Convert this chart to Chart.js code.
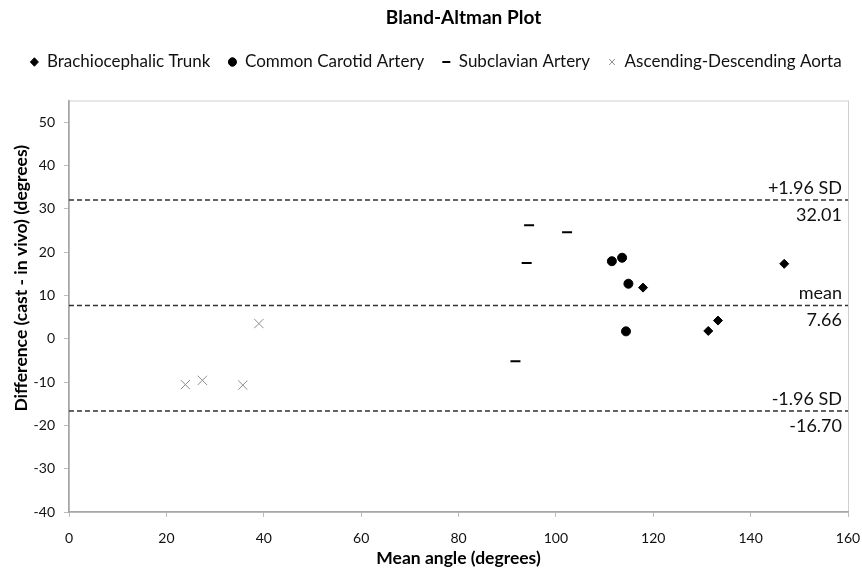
<!DOCTYPE html>
<html>
<head>
<meta charset="utf-8">
<title>Bland-Altman Plot</title>
<script src="https://cdn.jsdelivr.net/npm/chart.js@4.4.1/dist/chart.umd.min.js"></script>
<style>
  html, body { margin: 0; padding: 0; background: #fff; }
  #wrap { width: 862px; height: 573px; position: relative; }
</style>
</head>
<body>
<div id="wrap"><canvas id="chart"></canvas></div>
<script>
/* ---------- Dados ---------- */
const TITLE = "Bland-Altman Plot";
const X_TITLE = "Mean angle (degrees)";
const Y_TITLE = "Difference (cast - in vivo) (degrees)";
const SERIES_NAMES = ["Brachiocephalic Trunk", "Common Carotid Artery", "Subclavian Artery", "Ascending-Descending Aorta"];

const TRUNK_X = [117.9, 131.3, 133.3, 146.9];
const TRUNK_Y = [11.8, 1.8, 4.2, 17.3];

const CAROTID_X = [111.5, 113.6, 114.9, 114.4];
const CAROTID_Y = [17.9, 18.7, 12.7, 1.7];

const SUBCLAVIAN_X = [94.5, 102.3, 94.0, 91.7];
const SUBCLAVIAN_Y = [26.2, 24.6, 17.5, -5.2];

const AORTA_X = [23.9, 27.4, 35.7, 39.0];
const AORTA_Y = [-10.6, -9.6, -10.7, 3.5];

const LIMIT_NAMES = ["+1.96 SD", "mean", "-1.96 SD"];
const LIMIT_VALUES = [32.01, 7.66, -16.70];

const X_TICKS = [0, 20, 40, 60, 80, 100, 120, 140, 160];
const Y_TICKS = [-40, -30, -20, -10, 0, 10, 20, 30, 40, 50];
const Y_MAX = 55;

/* ---------- Helpers ---------- */
const FONT = "Lato, 'Noto Sans', sans-serif";
const pontos = (xs, ys) => xs.map((x, i) => ({ x, y: ys[i] }));

function serie(idx, xs, ys, estilo) {
  return Object.assign({ label: SERIES_NAMES[idx], data: pontos(xs, ys), showLine: false }, estilo);
}

const limites = LIMIT_VALUES.map((v, i) => ({
  type: "line",
  label: LIMIT_NAMES[i],
  data: [{ x: X_TICKS[0], y: v }, { x: X_TICKS[X_TICKS.length - 1], y: v }],
  borderColor: "#333",
  borderWidth: 1.5,
  borderDash: [5, 3],
  pointRadius: 0,
  showLine: true,
  isLimit: true,
}));

// espaço extra abaixo da legenda e leve deslocamento para a direita
const legendaMargem = {
  id: "legendaMargem",
  beforeInit(chart) {
    const fitOrig = chart.legend.fit;
    chart.legend.fit = function () {
      fitOrig.call(chart.legend);
      this.height += 20;
    };
  },
  afterLayout(chart) {
    chart.legend.left += 12;
    chart.legend.right += 12;
  },
};

// moldura cinza do plot area
const molduraPlugin = {
  id: "moldura",
  beforeDraw(chart) {
    const { ctx, chartArea: a } = chart;
    ctx.save();
    ctx.strokeStyle = "#cfcfcf";
    ctx.lineWidth = 1;
    ctx.strokeRect(a.left + 0.5, a.top + 0.5, a.right - a.left, a.bottom - a.top);
    ctx.restore();
  },
};

// título, título do eixo Y e rótulos das linhas de limite
const textosPlugin = {
  id: "textos",
  afterDraw(chart) {
    const { ctx, chartArea: a, scales } = chart;
    ctx.save();
    ctx.fillStyle = "#000";
    ctx.textAlign = "center";
    ctx.textBaseline = "middle";
    ctx.font = "bold 19px " + FONT;
    ctx.fillText(TITLE, (a.left + a.right) / 2 + 5, 18);

    ctx.save();
    ctx.translate(21, (a.top + a.bottom) / 2 - 28);
    ctx.rotate(-Math.PI / 2);
    ctx.font = "bold 17.5px " + FONT;
    ctx.fillText(Y_TITLE, 0, 0);
    ctx.restore();

    ctx.fillStyle = "#111";
    ctx.font = "18px " + FONT;
    ctx.textAlign = "right";
    LIMIT_VALUES.forEach((v, i) => {
      const y = scales.y.getPixelForValue(v);
      ctx.textBaseline = "bottom";
      ctx.fillText(LIMIT_NAMES[i], a.right - 6, y - 3);
      ctx.textBaseline = "top";
      ctx.fillText(v.toFixed(2), a.right - 6, y + 6);
    });
    ctx.restore();
  },
};

/* ---------- Gráfico ---------- */
Chart.defaults.font.family = FONT;
Chart.defaults.color = "#111";

new Chart(document.getElementById("chart"), {
  type: "scatter",
  data: {
    datasets: [
      serie(0, TRUNK_X, TRUNK_Y, { pointStyle: "rectRot", pointRadius: 4.5, backgroundColor: "#000", borderColor: "#000", borderWidth: 1 }),
      serie(1, CAROTID_X, CAROTID_Y, { pointStyle: "circle", pointRadius: 4.5, backgroundColor: "#000", borderColor: "#000", borderWidth: 1 }),
      serie(2, SUBCLAVIAN_X, SUBCLAVIAN_Y, { pointStyle: "line", pointRadius: 5, backgroundColor: "#000", borderColor: "#000", borderWidth: 2 }),
      serie(3, AORTA_X, AORTA_Y, { pointStyle: "crossRot", pointRadius: 6.5, backgroundColor: "#8c8c8c", borderColor: "#8c8c8c", borderWidth: 1 }),
      ...limites,
    ],
  },
  options: {
    responsive: true,
    maintainAspectRatio: false,
    animation: false,
    layout: { padding: { left: 0, right: 14, top: 35.5, bottom: 0 } },
    plugins: {
      title: { display: false },
      legend: {
        position: "top",
        labels: {
          usePointStyle: true,
          pointStyleWidth: 8,
          boxHeight: 6,
          padding: 18,
          font: { size: 17 },
          color: "#111",
          filter: (item, data) => !data.datasets[item.datasetIndex].isLimit,
        },
      },
      tooltip: { enabled: false },
    },
    scales: {
      x: {
        type: "linear",
        min: X_TICKS[0],
        max: X_TICKS[X_TICKS.length - 1],
        afterBuildTicks: (s) => { s.ticks = X_TICKS.map((v) => ({ value: v })); },
        afterFit: (s) => { s.height = 61; s.paddingLeft = 0; s.paddingRight = 0; },
        ticks: { font: { size: 14 }, color: "#111", padding: 13, maxRotation: 0 },
        grid: { drawOnChartArea: false, drawTicks: true, tickLength: 5, color: "#bdbdbd" },
        border: { color: "#a6a6a6", width: 1.5 },
        title: { display: true, text: X_TITLE, font: { size: 17.5, weight: "bold" }, color: "#000", padding: { top: 0, bottom: 4 } },
      },
      y: {
        type: "linear",
        min: Y_TICKS[0],
        max: Y_MAX,
        afterBuildTicks: (s) => { s.ticks = Y_TICKS.map((v) => ({ value: v })); },
        afterFit: (s) => { s.width = 69; s.paddingTop = 0; s.paddingBottom = 0; },
        ticks: { font: { size: 14 }, color: "#111", padding: 9 },
        grid: { drawOnChartArea: false, drawTicks: true, tickLength: 5, color: "#bdbdbd" },
        border: { color: "#a6a6a6", width: 1.5 },
        title: { display: false },
      },
    },
  },
  plugins: [legendaMargem, molduraPlugin, textosPlugin],
});
</script>
</body>
</html>
